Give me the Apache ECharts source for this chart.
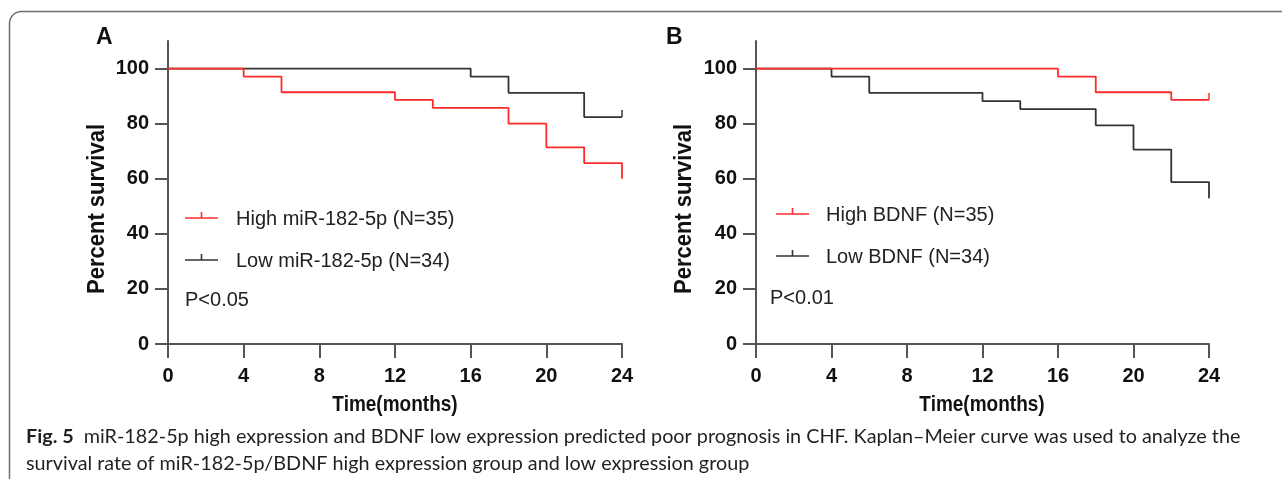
<!DOCTYPE html>
<html>
<head>
<meta charset="utf-8">
<script src="https://cdn.jsdelivr.net/npm/echarts@6/dist/echarts.min.js"></script>
<style>
  html, body { margin: 0; padding: 0; background: #fff; }
  #chart { width: 1282px; height: 479px; }
</style>
</head>
<body>
<div id="chart"></div>
<script>
// Panel A: miR-182-5p groups
const highMirTimes = [0, 4, 6, 12, 14, 18, 20, 22, 24]
const highMirSurv = [100, 97.1, 91.4, 88.6, 85.7, 80.0, 71.4, 65.7, 60.0]
const lowMirTimes = [0, 16, 18, 22, 24]
const lowMirSurv = [100, 97.1, 91.2, 82.4, 82.4]
const lowMirCensorTimes = [24]
const lowMirCensorSurv = [82.4]

// Panel B: BDNF groups
const highBdnfTimes = [0, 16, 18, 22, 24]
const highBdnfSurv = [100, 97.1, 91.4, 88.6, 88.6]
const highBdnfCensorTimes = [24]
const highBdnfCensorSurv = [88.6]
const lowBdnfTimes = [0, 4, 6, 12, 14, 18, 20, 22, 24]
const lowBdnfSurv = [100, 97.1, 91.2, 88.2, 85.3, 79.4, 70.6, 58.8, 52.9]

const xTicks = [0, 4, 8, 12, 16, 20, 24]
const yTicks = [0, 20, 40, 60, 80, 100]

const RED = '#ff2b2b'
const DARK = '#333333'
const AXIS = '#555555'
const FONT = '"Liberation Sans", Arial, sans-serif'
const CAP_FONT = 'Lato, "Open Sans", sans-serif'

const captionLine1 = 'miR-182-5p high expression and BDNF low expression predicted poor prognosis in CHF. Kaplan\u2013Meier curve was used to analyze the'
const captionLine2 = 'survival rate of miR-182-5p/BDNF high expression group and low expression group'

const zip = (xs, ys) => xs.map((x, i) => [x, ys[i]])

// pick a caption size so line 1 spans the same width as the figure text
const fitSize = (parts, target) => {
  const ctx = document.createElement('canvas').getContext('2d')
  let w = 0
  parts.forEach(p => {
    ctx.font = p.weight + ' 20px ' + CAP_FONT
    w += ctx.measureText(p.text).width
  })
  return 20 * target / w
}
const capSize = Math.round(fitSize([
  { text: 'Fig. 5  ', weight: 'bold' },
  { text: captionLine1, weight: 'normal' }
], 1215) * 10) / 10

const makeX = (gridIndex) => ({
  type: 'value',
  gridIndex,
  min: 0,
  max: 24,
  interval: 4,
  axisLine: { show: true, lineStyle: { color: AXIS, width: 2 } },
  axisTick: { show: true, length: 14, lineStyle: { color: AXIS, width: 2 } },
  axisLabel: { color: '#111', fontSize: 20, fontWeight: 'bold', fontFamily: FONT, margin: 22 },
  splitLine: { show: false }
})

const makeY = (gridIndex) => ({
  type: 'value',
  gridIndex,
  min: 0,
  max: 110,
  axisLine: { show: true, lineStyle: { color: AXIS, width: 2 } },
  axisTick: { show: true, length: 13, customValues: yTicks, lineStyle: { color: AXIS, width: 2 } },
  axisLabel: { color: '#111', fontSize: 20, fontWeight: 'bold', fontFamily: FONT, margin: 19, customValues: yTicks },
  splitLine: { show: false }
})

const stepLine = (name, idx, times, surv, color) => ({
  name,
  type: 'line',
  xAxisIndex: idx,
  yAxisIndex: idx,
  step: 'end',
  symbol: 'none',
  data: zip(times, surv),
  lineStyle: { color, width: 1.8 },
  z: color === RED ? 3 : 2
})

const censorMarks = (idx, times, surv, color) => ({
  type: 'scatter',
  xAxisIndex: idx,
  yAxisIndex: idx,
  symbol: 'rect',
  symbolSize: [1.8, 7],
  symbolOffset: [0, -3.5],
  itemStyle: { color },
  data: zip(times, surv)
})

const legendItem = (x, y, textX, textY, color, label) => [
  { type: 'line', shape: { x1: x, y1: y, x2: x + 33, y2: y }, style: { stroke: color, lineWidth: 1.6 } },
  { type: 'line', shape: { x1: x + 16.5, y1: y - 6, x2: x + 16.5, y2: y }, style: { stroke: color, lineWidth: 1.6 } },
  { type: 'text', x: textX, y: textY, style: { text: label, fill: '#222', font: '20px ' + FONT, textVerticalAlign: 'middle' } }
]

// axis titles (the source art has slightly tall lettering)
const axisTitle = (text, x, y, rotation, size) => ({
  type: 'text', x, y, rotation, scaleY: 1.12,
  style: { text, fill: '#111', font: 'bold ' + size + 'px ' + FONT, textAlign: 'center', textVerticalAlign: 'middle' }
})

const chart = echarts.init(document.getElementById('chart'))

const option = {
  animation: false,
  backgroundColor: '#fff',
  grid: [
    { left: 168, top: 41, width: 454, height: 303 },
    { left: 756, top: 41, width: 453, height: 303 }
  ],
  xAxis: [makeX(0), makeX(1)],
  yAxis: [makeY(0), makeY(1)],
  series: [
    stepLine('Low miR-182-5p (N=34)', 0, lowMirTimes, lowMirSurv, DARK),
    stepLine('High miR-182-5p (N=35)', 0, highMirTimes, highMirSurv, RED),
    censorMarks(0, lowMirCensorTimes, lowMirCensorSurv, DARK),
    stepLine('Low BDNF (N=34)', 1, lowBdnfTimes, lowBdnfSurv, DARK),
    stepLine('High BDNF (N=35)', 1, highBdnfTimes, highBdnfSurv, RED),
    censorMarks(1, highBdnfCensorTimes, highBdnfCensorSurv, RED)
  ],
  graphic: [
    // figure frame
    { type: 'rect', shape: { x: 9.5, y: 11.5, width: 1320, height: 520, r: 12 }, style: { fill: 'none', stroke: '#6e6e6e', lineWidth: 1.5 }, silent: true },
    // panel letters
    { type: 'text', x: 96, y: 38, style: { text: 'A', fill: '#111', font: 'bold 23px ' + FONT, textVerticalAlign: 'middle' } },
    { type: 'text', x: 666, y: 38, style: { text: 'B', fill: '#111', font: 'bold 23px ' + FONT, textVerticalAlign: 'middle' } },
    axisTitle('Percent survival', 97, 209, Math.PI / 2, 22),
    axisTitle('Percent survival', 684, 209, Math.PI / 2, 22),
    axisTitle('Time(months)', 395, 405, 0, 19),
    axisTitle('Time(months)', 982, 405, 0, 19),
    // legends A
    ...legendItem(185, 218, 236, 219, RED, 'High miR-182-5p (N=35)'),
    ...legendItem(185, 260, 236, 261, DARK, 'Low miR-182-5p (N=34)'),
    { type: 'text', x: 185, y: 300, style: { text: 'P<0.05', fill: '#222', font: '20px ' + FONT, textVerticalAlign: 'middle' } },
    // legends B
    ...legendItem(776, 214, 826, 215, RED, 'High BDNF (N=35)'),
    ...legendItem(776, 256, 826, 257, DARK, 'Low BDNF (N=34)'),
    { type: 'text', x: 770, y: 298, style: { text: 'P<0.01', fill: '#222', font: '20px ' + FONT, textVerticalAlign: 'middle' } },
    // caption
    {
      type: 'text', x: 26, y: 437,
      style: {
        text: '{b|Fig. 5}  ' + captionLine1,
        fill: '#231f20',
        font: capSize + 'px ' + CAP_FONT,
        textVerticalAlign: 'middle',
        rich: { b: { fontWeight: 'bold', fontSize: capSize, fontFamily: CAP_FONT, fill: '#231f20' } }
      }
    },
    {
      type: 'text', x: 26, y: 464,
      style: { text: captionLine2, fill: '#231f20', font: capSize + 'px ' + CAP_FONT, textVerticalAlign: 'middle' }
    }
  ]
}

chart.setOption(option)
</script>
</body>
</html>
